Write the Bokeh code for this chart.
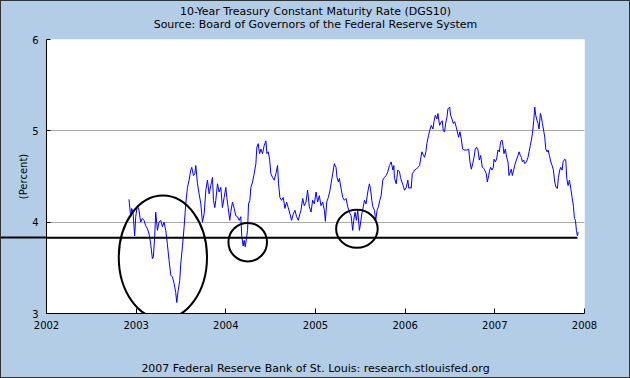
from bokeh.plotting import figure
from bokeh.models import FixedTicker, Title, LinearAxis, InlineStyleSheet
from bokeh.embed import file_html
from bokeh.resources import INLINE

TITLE = "10-Year Treasury Constant Maturity Rate (DGS10)"
SUBTITLE = "Source: Board of Governors of the Federal Reserve System"
FOOTER = "2007 Federal Reserve Bank of St. Louis: research.stlouisfed.org"
Y_LABEL = "(Percent)"
X_TICKS = [2002, 2003, 2004, 2005, 2006, 2007, 2008]
Y_TICKS = [3, 4, 5, 6]
REF_LEVEL = 3.83

# decimal year, 10-year rate (%)
dates = [
    2002.920, 2002.939, 2002.950, 2002.965, 2002.983, 2002.995, 2003.013, 2003.032, 2003.050, 2003.069,
    2003.088, 2003.106, 2003.125, 2003.144, 2003.162, 2003.181, 2003.192, 2003.207, 2003.218, 2003.237,
    2003.255, 2003.274, 2003.293, 2003.311, 2003.330, 2003.348, 2003.367, 2003.386, 2003.404, 2003.423,
    2003.441, 2003.453, 2003.468, 2003.486, 2003.497, 2003.516, 2003.535, 2003.553, 2003.572, 2003.590,
    2003.609, 2003.620, 2003.639, 2003.654, 2003.665, 2003.684, 2003.702, 2003.721, 2003.739, 2003.758,
    2003.777, 2003.795, 2003.814,
    2003.832, 2003.851, 2003.862, 2003.877, 2003.888, 2003.907, 2003.925, 2003.944, 2003.962, 2003.981,
    2004.000, 2004.011, 2004.026, 2004.044, 2004.055, 2004.074, 2004.093, 2004.111, 2004.130, 2004.149,
    2004.167, 2004.178, 2004.193, 2004.204, 2004.216, 2004.230, 2004.242, 2004.253, 2004.268, 2004.279,
    2004.298, 2004.316, 2004.335, 2004.346, 2004.361, 2004.376, 2004.391, 2004.409, 2004.428, 2004.447,
    2004.458, 2004.473, 2004.488, 2004.502, 2004.521, 2004.540, 2004.558, 2004.577, 2004.588, 2004.603,
    2004.622, 2004.640, 2004.659, 2004.677, 2004.696, 2004.715, 2004.733, 2004.752, 2004.771, 2004.789,
    2004.808, 2004.826,
    2004.838, 2004.857, 2004.875, 2004.894, 2004.912, 2004.931, 2004.950, 2004.968, 2004.987, 2005.006,
    2005.024, 2005.043, 2005.061, 2005.080, 2005.099, 2005.110, 2005.125, 2005.143, 2005.162, 2005.173,
    2005.192, 2005.210, 2005.229, 2005.240, 2005.255, 2005.266, 2005.285, 2005.304, 2005.322, 2005.341,
    2005.359, 2005.378, 2005.397, 2005.415, 2005.426, 2005.441, 2005.456, 2005.471, 2005.490, 2005.501,
    2005.516, 2005.534, 2005.546, 2005.564, 2005.583, 2005.601, 2005.613, 2005.628, 2005.639, 2005.657,
    2005.672, 2005.687, 2005.702, 2005.717, 2005.732, 2005.750, 2005.769, 2005.788, 2005.806, 2005.825,
    2005.844, 2005.863, 2005.874, 2005.881, 2005.900, 2005.918, 2005.937, 2005.948, 2005.963, 2005.978,
    2005.993, 2006.012, 2006.030, 2006.041, 2006.056, 2006.067, 2006.079, 2006.094, 2006.105, 2006.123,
    2006.142, 2006.161, 2006.172, 2006.187, 2006.205, 2006.216, 2006.231, 2006.242, 2006.261, 2006.272,
    2006.291, 2006.310, 2006.321, 2006.336, 2006.354, 2006.365, 2006.384, 2006.403, 2006.414, 2006.425,
    2006.440, 2006.451, 2006.466, 2006.477, 2006.496, 2006.507, 2006.522, 2006.537, 2006.552, 2006.570,
    2006.581, 2006.596, 2006.611, 2006.626, 2006.641, 2006.656, 2006.671, 2006.689, 2006.708, 2006.723,
    2006.738, 2006.753, 2006.768, 2006.782, 2006.797, 2006.812, 2006.827, 2006.842,
    2006.860, 2006.875, 2006.886, 2006.905, 2006.916, 2006.931, 2006.942, 2006.953, 2006.968, 2006.983,
    2006.991, 2007.005, 2007.020, 2007.035, 2007.050, 2007.065, 2007.080, 2007.091, 2007.102, 2007.117,
    2007.132, 2007.147, 2007.158, 2007.173, 2007.184, 2007.195, 2007.210, 2007.221, 2007.240, 2007.259,
    2007.270, 2007.285, 2007.296, 2007.307, 2007.322, 2007.333, 2007.352, 2007.370, 2007.382, 2007.396,
    2007.408, 2007.419, 2007.434, 2007.445, 2007.456, 2007.471, 2007.482, 2007.493, 2007.508, 2007.519,
    2007.531, 2007.545, 2007.557, 2007.568, 2007.583, 2007.594, 2007.609, 2007.624, 2007.639, 2007.653,
    2007.668, 2007.683, 2007.698, 2007.709, 2007.724, 2007.735, 2007.750, 2007.761, 2007.780, 2007.791,
    2007.802, 2007.817, 2007.832, 2007.847, 2007.862, 2007.877, 2007.888, 2007.899, 2007.910, 2007.921,
    2007.929,
]
rates = [
    4.25, 4.06, 4.15, 4.11, 3.85, 4.06, 4.18, 4.13, 4.00, 4.04,
    4.02, 3.96, 3.93, 3.87, 3.76, 3.60, 3.62, 3.85, 4.11, 3.91,
    4.00, 4.02, 3.95, 4.00, 3.91, 3.76, 3.58, 3.42, 3.40, 3.33,
    3.23, 3.12, 3.25, 3.36, 3.54, 3.73, 3.95, 4.20, 4.38, 4.46,
    4.57, 4.60, 4.51, 4.53, 4.62, 4.42, 4.31, 4.20, 4.00, 4.09,
    4.35, 4.46, 4.31,
    4.40, 4.49, 4.24, 4.16, 4.24, 4.42, 4.33, 4.38, 4.16, 4.27,
    4.38, 4.27, 4.16, 4.02, 4.11, 4.22, 4.15, 4.07, 4.06, 4.02,
    4.06, 3.84, 3.74, 3.80, 3.73, 3.82, 3.91, 4.20, 4.24, 4.38,
    4.44, 4.53, 4.64, 4.82, 4.86, 4.75, 4.80, 4.75, 4.84, 4.89,
    4.75, 4.77, 4.69, 4.53, 4.49, 4.46, 4.53, 4.62, 4.42, 4.27,
    4.24, 4.27, 4.15, 4.22, 4.16, 4.09, 4.02, 4.09, 4.13, 4.06,
    4.02, 4.09,
    4.13, 4.26, 4.18, 4.22, 4.35, 4.17, 4.11, 4.24, 4.20, 4.33,
    4.22, 4.29, 4.18, 4.22, 4.13, 4.01, 4.22, 4.27, 4.35, 4.42,
    4.53, 4.64, 4.60, 4.49, 4.44, 4.48, 4.37, 4.27, 4.24, 4.26,
    4.17, 4.11, 4.07, 3.91, 4.02, 4.11, 4.02, 4.13, 3.91, 3.98,
    4.09, 4.17, 4.24, 4.20, 4.33, 4.42, 4.37, 4.24, 4.17, 4.13,
    4.02, 4.13, 4.17, 4.24, 4.29, 4.46, 4.49, 4.51, 4.55, 4.62,
    4.66, 4.57, 4.62, 4.48, 4.42, 4.57, 4.55, 4.49, 4.44, 4.40,
    4.35, 4.38, 4.46, 4.37, 4.38, 4.37, 4.53, 4.55, 4.57, 4.58,
    4.60, 4.62, 4.69, 4.77, 4.73, 4.71, 4.77, 4.86, 4.95, 5.00,
    5.06, 5.02, 5.10, 5.17, 5.13, 5.19, 5.06, 5.10, 5.11, 5.00,
    4.99, 5.08, 5.15, 5.24, 5.26, 5.17, 5.13, 5.08, 5.10, 5.04,
    4.99, 4.93, 4.99, 4.91, 4.80, 4.79, 4.79, 4.79, 4.80, 4.66,
    4.58, 4.64, 4.71, 4.80, 4.82, 4.79, 4.68, 4.73,
    4.60, 4.59, 4.57, 4.53, 4.44, 4.51, 4.57, 4.60, 4.57, 4.60,
    4.69, 4.66, 4.69, 4.79, 4.77, 4.88, 4.90, 4.84, 4.75, 4.80,
    4.71, 4.66, 4.51, 4.55, 4.58, 4.51, 4.57, 4.62, 4.68, 4.73,
    4.77, 4.73, 4.71, 4.66, 4.68, 4.64, 4.66, 4.71, 4.77, 4.84,
    4.90, 4.97, 5.11, 5.26, 5.17, 5.11, 5.08, 5.02, 5.19, 5.15,
    5.08, 5.00, 4.93, 4.80, 4.77, 4.79, 4.73, 4.66, 4.62, 4.57,
    4.44, 4.38, 4.37, 4.49, 4.57, 4.60, 4.57, 4.66, 4.69, 4.68,
    4.48, 4.40, 4.46, 4.37, 4.27, 4.17, 4.04, 4.02, 3.91, 3.85,
    3.89,
]

# hand-drawn ellipse annotations (center year, center rate, width in years, height in %)
ellipse_cx = [2003.298, 2004.244, 2005.462]
ellipse_cy = [3.616, 3.781, 3.927]
ellipse_w = [0.984, 0.430, 0.464]
ellipse_h = [1.352, 0.422, 0.416]

BG = "#B4CDE6"
FONT = "DejaVu Sans"

p = figure(width=630, height=378, x_range=(2002, 2008), y_range=(3, 6),
           output_backend="svg", toolbar_location=None,
           min_border_left=46, min_border_right=46, min_border_top=39, min_border_bottom=65,
           background_fill_color="white", border_fill_color=BG, outline_line_color=None)
# thin dark frame around the whole chart image
p.stylesheets = [InlineStyleSheet(css=(
    ":host { position: relative; }"
    ":host::after { content: ''; position: absolute; left: 0; top: 0; right: 0; bottom: 0;"
    " border: 1px solid #333333; pointer-events: none; z-index: 100; }"))]

p.line(dates, rates, line_color="#0000FF", line_width=1)

# reference level line inside the plot
p.segment(x0=[X_TICKS[0]], y0=[REF_LEVEL], x1=[dates[-2]], y1=[REF_LEVEL],
          line_color="black", line_width=2)

# circled episodes
p.ellipse(x=ellipse_cx, y=ellipse_cy, width=ellipse_w, height=ellipse_h,
          fill_color=None, line_color="black", line_width=2)

for ax, tin in ((p.xaxis, 5), (p.yaxis, 4)):
    ax.major_tick_in = tin
    ax.major_tick_out = 0
    ax.axis_line_color = "black"
    ax.major_tick_line_color = "black"
    ax.major_label_text_font = FONT
    ax.major_label_text_font_size = "10px"
    ax.major_label_text_color = "black"

p.xaxis.ticker = FixedTicker(ticks=X_TICKS)
p.xaxis.minor_tick_line_color = None
p.xaxis.major_label_standoff = 7
# footer text carried by the x axis label
p.xaxis.axis_label = FOOTER
p.xaxis.axis_label_text_font = FONT
p.xaxis.axis_label_text_font_size = "11px"
p.xaxis.axis_label_text_font_style = "normal"
p.xaxis.axis_label_text_color = "black"
p.xaxis.axis_label_standoff = 30

# the reference level line continues across the left margin (drawn as a long minor tick)
p.yaxis.ticker = FixedTicker(ticks=Y_TICKS, minor_ticks=[REF_LEVEL])
p.yaxis.minor_tick_in = 0
p.yaxis.minor_tick_out = 46
p.yaxis.minor_tick_line_color = "black"
p.yaxis.minor_tick_line_width = 2
p.yaxis.major_label_standoff = -38

p.yaxis.axis_label = Y_LABEL
p.yaxis.axis_label_text_font = FONT
p.yaxis.axis_label_text_font_size = "10px"
p.yaxis.axis_label_text_font_style = "normal"
p.yaxis.axis_label_text_color = "black"
p.yaxis.axis_label_standoff = 0

p.xgrid.grid_line_color = None
p.ygrid.ticker = FixedTicker(ticks=Y_TICKS)
p.ygrid.grid_line_color = "#AAAAAA"

# subtitle: label of a bare axis above the plot
top_axis = LinearAxis(ticker=FixedTicker(ticks=[]), axis_line_color=None,
                      major_tick_line_color=None, minor_tick_line_color=None,
                      major_tick_in=0, major_tick_out=0, minor_tick_in=0, minor_tick_out=0,
                      major_label_standoff=0, major_label_text_font_size="0px",
                      axis_label=SUBTITLE, axis_label_standoff=9,
                      axis_label_text_font=FONT, axis_label_text_font_size="11px",
                      axis_label_text_font_style="normal", axis_label_text_color="black")
p.add_layout(top_axis, "above")

p.add_layout(Title(text=TITLE, align="center", standoff=-6, text_font=FONT,
                   text_font_size="11px", text_font_style="normal", text_color="black"), "above")

open("out.html", "w").write(file_html(p, INLINE))
